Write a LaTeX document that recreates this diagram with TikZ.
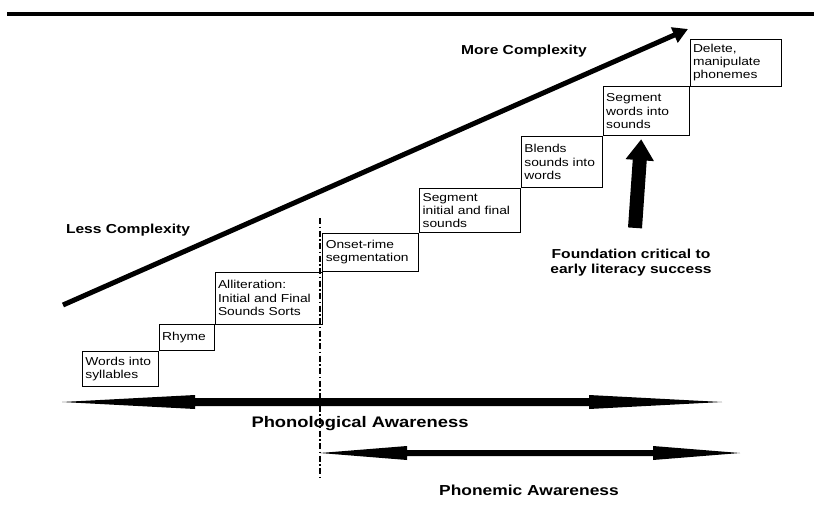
\documentclass[tikz,border=0pt]{standalone}
\usepackage{fontspec}
\setmainfont{Liberation Sans}[FakeStretch=1.2]
\usetikzlibrary{arrows.meta, positioning, calc}

\begin{document}
\begin{tikzpicture}[x=1pt, y=-1pt, node distance=0pt,
    stepbox/.style 2 args={draw, line width=0.8pt, align=left, inner xsep=3pt,
      inner ysep=0pt, text width=#1, minimum height=#2,
      font=\fontsize{11.5}{13.3}\selectfont},
    biglabel/.style={font=\bfseries\fontsize{13}{15}\selectfont, align=center},
    awlabel/.style={font=\bfseries\fontsize{#1}{17}\selectfont},
    complexity/.style={line width=5pt, -{Triangle[length=15pt, width=16pt]}},
    divider/.style={line width=1.2pt, dash pattern=on 6pt off 2.5pt on 1.5pt off 2.5pt}]
  \useasboundingbox (0,0) rectangle (814,506);
  \draw[line width=4.5pt] (7,14) -- (814,14);

  \node[stepbox={70pt}{35pt}, anchor=south west] (words) at (82,387) {Words into\\syllables};
  \node[stepbox={49pt}{26pt}, above right=of words] (rhyme) {Rhyme};
  \node[stepbox={101pt}{52pt}, above right=of rhyme] (allit) {Alliteration:\\Initial and Final\\Sounds Sorts};
  \node[stepbox={90pt}{38pt}, above right=of allit] (onset) {Onset-rime\\segmentation};
  \node[stepbox={95pt}{44pt}, above right=of onset] (seginit) {Segment\\initial and final\\sounds};
  \node[stepbox={75pt}{51pt}, above right=of seginit] (blends) {Blends\\sounds into\\words};
  \node[stepbox={80pt}{49pt}, above right=of blends] (segwords) {Segment\\words into\\sounds};
  \node[stepbox={85pt}{47pt}, above right=of segwords] (delete) {Delete,\\manipulate\\phonemes};

  \node[biglabel] (less) at (128,230) {Less Complexity};
  \node[biglabel] (more) at (524,51) {More Complexity};
  \node[biglabel] (found) at (631,263) {Foundation critical to\\early literacy success};
  \node[awlabel=15.3] (phono) at (360,424) {Phonological Awareness};
  \node[awlabel=14.5] (phonemic) at (529,490) {Phonemic Awareness};

  \coordinate (lo) at (63,305);
  \coordinate (hi) at (688,29);
  \coordinate (divtop) at (320,218);
  \coordinate (divbot) at (320,477);
  \coordinate (phonoL) at (62,402);
  \coordinate (phonoR) at (722,402);
  \coordinate (phonemicL) at (320,453);
  \coordinate (phonemicR) at (740,453);

  \draw[complexity] (lo) -- (hi);
  \draw[divider] (divtop) -- (divbot);
  \fill (phonoL) -- ++(133,-7) -- ++(0,3) -- ($(phonoR)+(-133,-4)$) -- ++(0,-3)
    -- (phonoR) -- ++(-133,7) -- ++(0,-3) -- ($(phonoL)+(133,4)$) -- ++(0,3) -- cycle;
  \fill (phonemicL) -- ++(87,-7) -- ++(0,4) -- ($(phonemicR)+(-87,-3)$) -- ++(0,-4)
    -- (phonemicR) -- ++(-87,7) -- ++(0,-4) -- ($(phonemicL)+(87,3)$) -- ++(0,4) -- cycle;
  \draw[line width=14pt, -{Triangle[length=21pt, width=27pt]}]
    ([xshift=4pt, yshift=18pt]found.north) -- ([xshift=-5pt, yshift=-3pt]segwords.south);
\end{tikzpicture}
\end{document}
